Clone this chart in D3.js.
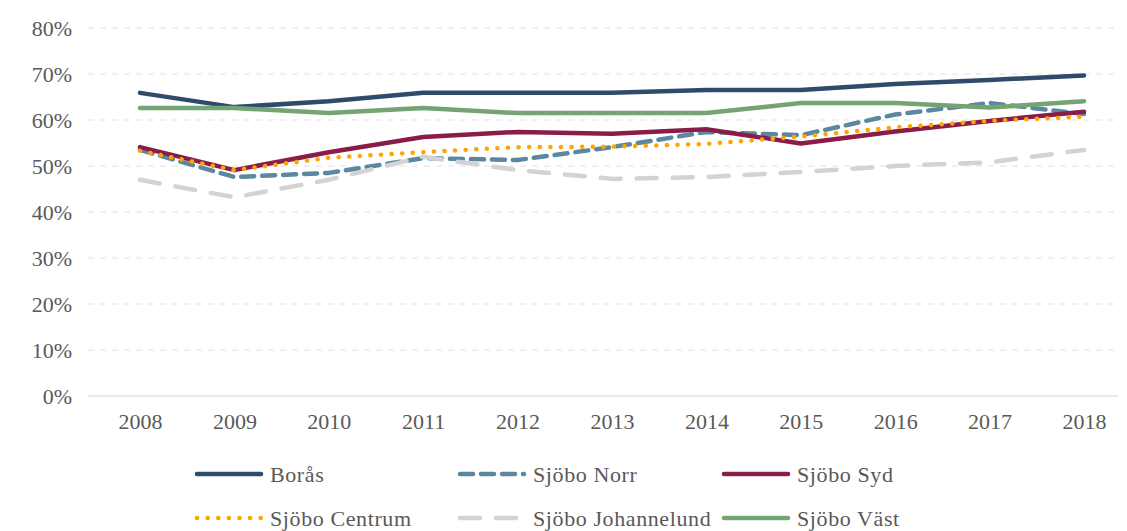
<!DOCTYPE html>
<html>
<head>
<meta charset="utf-8">
<script src="https://cdn.jsdelivr.net/npm/d3@7"></script>
<style>
  body { margin: 0; background: #fff; }
  text { font-family: "Liberation Serif", "DejaVu Serif", serif; fill: #595959; }
</style>
</head>
<body>
<div id="chart"></div>
<script>
var years = ['2008','2009','2010','2011','2012','2013','2014','2015','2016','2017','2018'];
var yTickValues = [0, 0.1, 0.2, 0.3, 0.4, 0.5, 0.6, 0.7, 0.8];

var boras       = [0.659, 0.628, 0.641, 0.659, 0.659, 0.659, 0.665, 0.665, 0.678, 0.687, 0.697];
var sjoboNorr   = [0.535, 0.476, 0.485, 0.517, 0.513, 0.541, 0.574, 0.567, 0.612, 0.637, 0.613];
var sjoboSyd    = [0.541, 0.491, 0.530, 0.563, 0.574, 0.570, 0.580, 0.549, 0.575, 0.598, 0.618];
var sjoboCentrum = [0.533, 0.491, 0.518, 0.530, 0.541, 0.542, 0.548, 0.564, 0.584, 0.598, 0.607];
var sjoboJohannelund = [0.470, 0.432, 0.470, 0.520, 0.491, 0.472, 0.476, 0.487, 0.500, 0.508, 0.535];
var sjoboVast   = [0.626, 0.626, 0.615, 0.626, 0.615, 0.615, 0.615, 0.637, 0.637, 0.627, 0.641];

var series = [
    { name: 'Borås', values: boras, color: '#2f4b6c', dash: null },
    { name: 'Sjöbo Norr', values: sjoboNorr, color: '#5b87a0', dash: '13,8' },
    { name: 'Sjöbo Syd', values: sjoboSyd, color: '#8a1c4a', dash: null },
    { name: 'Sjöbo Centrum', values: sjoboCentrum, color: '#ffa500', dash: '0.1,10.5' },
    { name: 'Sjöbo Johannelund', values: sjoboJohannelund, color: '#d3d3d3', dash: '20,16' },
    { name: 'Sjöbo Väst', values: sjoboVast, color: '#74a374', dash: null }
];

var width = 1127;
var height = 531;

var svg = d3.select('#chart')
    .append('svg')
        .attr('width', width)
        .attr('height', height);

var x = d3.scalePoint()
    .domain(years)
    .range([140, 1084]);

var y = d3.scaleLinear()
    .domain([0, 0.8])
    .range([396, 28]);

// gridlines
svg.append('g')
    .selectAll('line')
    .data(yTickValues)
    .enter().append('line')
        .attr('x1', 88)
        .attr('x2', 1118)
        .attr('y1', function(d) { return y(d); })
        .attr('y2', function(d) { return y(d); })
        .attr('stroke', function(d) { return d === 0 ? '#d0d0d0' : '#e0e0e0'; })
        .attr('stroke-width', 1)
        .attr('stroke-dasharray', function(d) { return d === 0 ? null : '6,6'; });

// y axis labels
var yAxis = d3.axisLeft(y)
    .tickValues(yTickValues)
    .tickFormat(d3.format('.0%'))
    .tickSize(0)
    .tickPadding(0);

svg.append('g')
    .attr('transform', 'translate(72,0)')
    .call(yAxis)
    .call(function(g) { g.select('.domain').remove(); })
    .selectAll('text')
        .style('font-size', '22px')
        .attr('fill', '#595959');

// x axis labels
var xAxis = d3.axisBottom(x).tickSize(0).tickPadding(0);

svg.append('g')
    .attr('transform', 'translate(0,413)')
    .call(xAxis)
    .call(function(g) { g.select('.domain').remove(); })
    .selectAll('text')
        .style('font-size', '22px')
        .attr('fill', '#595959');

var line = d3.line()
    .x(function(d, i) { return x(years[i]); })
    .y(function(d) { return y(d); });

svg.append('g')
    .selectAll('path')
    .data(series)
    .enter().append('path')
        .attr('fill', 'none')
        .attr('stroke', function(d) { return d.color; })
        .attr('stroke-width', 4.5)
        .attr('stroke-linecap', 'round')
        .attr('stroke-linejoin', 'round')
        .attr('stroke-dasharray', function(d) { return d.dash; })
        .attr('d', function(d) { return line(d.values); });

// legend
var legendPos = [
    { x: 197, y: 474 }, { x: 460, y: 474 }, { x: 724, y: 474 },
    { x: 197, y: 518 }, { x: 460, y: 518 }, { x: 724, y: 518 }
];

var legend = svg.append('g')
    .selectAll('g')
    .data(series)
    .enter().append('g')
        .attr('transform', function(d, i) {
            return 'translate(' + legendPos[i].x + ',' + legendPos[i].y + ')';
        });

legend.append('line')
    .attr('x1', 0)
    .attr('x2', 64)
    .attr('stroke', function(d) { return d.color; })
    .attr('stroke-width', 4.5)
    .attr('stroke-linecap', 'round')
    .attr('stroke-dasharray', function(d) { return d.dash; });

legend.append('text')
    .attr('x', 73)
    .attr('y', 8)
    .style('font-size', '22px')
    .style('letter-spacing', '0.6px')
    .text(function(d) { return d.name; });
</script>
</body>
</html>
